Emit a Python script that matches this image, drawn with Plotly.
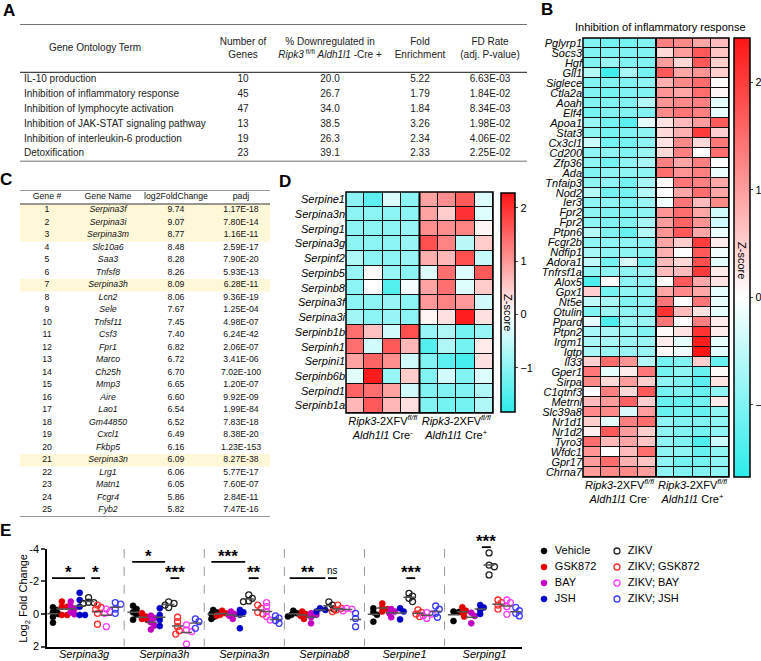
import numpy as np
import plotly.graph_objects as go

W, H = 761, 661
FONT = "Liberation Sans"
CYAN = "rgb(45,235,235)"
RED = "rgb(255,20,20)"


def px(x):
    return x / W


def py(y):
    return 1 - y / H


# ---------------- panel A: GO table ----------------
A_TERMS = ["IL-10 production", "Inhibition of inflammatory response",
           "Inhibition of lymphocyte activation", "Inhibition of JAK-STAT signaling pathway",
           "Inhibition of interleukin-6 production", "Detoxification"]
A_NGENES = [10, 45, 47, 13, 19, 23]
A_PCT_DOWN = [20.0, 26.7, 34.0, 38.5, 26.3, 39.1]
A_FOLD = [5.22, 1.79, 1.84, 3.26, 2.34, 2.33]
A_FDR = [6.63e-03, 1.84e-02, 8.34e-03, 1.98e-02, 4.06e-02, 2.25e-02]
A_HEADERS = ["Gene Ontology Term", "Number of<br>Genes",
             "% Downregulated in<br><i>Ripk3</i><sup> fl/fl</sup> <i>Aldh1l1</i> -Cre +",
             "Fold<br>Enrichment", "FD Rate<br>(adj. P-value)"]

# ---------------- panel C: top genes table ----------------
C_GENES = ["Serpina3f", "Serpina3i", "Serpina3m", "Slc10a6", "Saa3", "Tnfsf8", "Serpina3h",
           "Lcn2", "Sele", "Tnfsf11", "Csf3", "Fpr1", "Marco", "Ch25h", "Mmp3", "Aire", "Lao1",
           "Gm44850", "Cxcl1", "Fkbp5", "Serpina3n", "Lrg1", "Matn1", "Fcgr4", "Fyb2"]
C_LOG2FC = [9.74, 9.07, 8.77, 8.48, 8.28, 8.26, 8.09, 8.06, 7.67, 7.45, 7.40, 6.82, 6.72,
            6.70, 6.65, 6.60, 6.54, 6.52, 6.49, 6.16, 6.09, 6.06, 6.05, 5.86, 5.82]
C_PADJ = [1.17e-18, 7.80e-14, 1.16e-11, 2.59e-17, 7.90e-20, 5.93e-13, 6.28e-11, 9.36e-19,
          1.25e-04, 4.98e-07, 6.24e-42, 2.06e-07, 3.41e-06, 7.02e-100, 1.20e-07, 9.92e-09,
          1.99e-84, 7.83e-18, 8.38e-20, 1.23e-153, 8.27e-38, 5.77e-17, 7.60e-07, 2.84e-11,
          7.47e-16]
C_HEADERS = ["Gene #", "Gene Name", "log2FoldChange", "padj"]

# ---------------- panel B: heatmap ----------------
B_GENES = ["Pglyrp1", "Socs3", "Hgf", "Gll1", "Siglece", "Ctla2a", "Aoah", "Elf4", "Apoa1",
           "Stat3", "Cx3cl1", "Cd200", "Zfp36", "Ada", "Tnfaip3", "Nod2", "Ier3", "Fpr2",
           "Fpr2", "Ptpn6", "Fcgr2b", "Ndfip1", "Adora1", "Tnfrsf1a", "Alox5", "Gpx1", "Nt5e",
           "Otulin", "Ppard", "Ptpn2", "Irgm1", "Igtp", "Il33", "Gper1", "Sirpa", "C1qtnf3",
           "Metrnl", "Slc39a8", "Nr1d1", "Nr1d2", "Tyro3", "Wfdc1", "Gpr17", "Chrna7"]
B_Z = [
    [-1.0, -1.1, -1.1, -1.0, 1.3, 1.2, 0.9, 0.7],
    [-1.0, -1.0, -1.0, -1.0, 0.4, 1.0, 1.7, 0.6],
    [-1.0, -0.8, -1.0, -1.0, 1.0, 0.4, 1.7, 0.5],
    [-0.6, -1.5, -0.7, -1.1, 1.7, 0.9, 1.1, 0.5],
    [-1.0, -1.0, -1.0, -0.9, 0.8, 1.2, 1.5, 0.05],
    [-1.0, -1.1, -1.0, -1.0, 1.1, 0.9, 1.5, 0.1],
    [-1.0, -1.0, -1.0, -0.6, 1.1, 1.2, 1.3, -0.2],
    [-1.1, -1.0, -1.0, -1.0, 1.2, 1.4, 1.3, -0.2],
    [-0.8, -1.1, -1.3, -0.2, 0.3, 0.7, 1.0, 1.7],
    [-0.9, -1.1, -1.0, -0.9, 0.4, 0.8, 2.0, 0.5],
    [-0.4, -1.1, -1.1, -0.9, 0.3, 1.2, 0.4, 1.4],
    [-0.9, -0.9, -1.0, -0.8, 0.4, 1.3, 0.0, 1.5],
    [-0.9, -1.1, -0.9, -0.7, 1.3, 0.9, 1.3, 0.0],
    [-1.0, -0.9, -0.9, -0.9, 1.5, 1.1, 1.3, -0.15],
    [-0.9, -0.9, -1.1, -0.7, 0.05, 1.4, 1.3, 0.9],
    [-0.6, -1.1, -1.1, -0.6, 0.0, 0.9, 1.5, 0.9],
    [-0.9, -0.9, -1.0, -0.8, -0.1, 1.4, 0.7, 1.2],
    [-0.9, -1.0, -1.0, -0.9, 1.1, 1.5, 0.9, -0.4],
    [-0.9, -1.0, -1.0, -0.7, 1.0, 1.6, 1.1, -0.4],
    [-0.6, -1.0, -1.2, -0.6, 1.1, 1.7, 0.9, -0.15],
    [-0.9, -0.9, -0.9, -0.9, 0.9, 0.5, 2.0, 0.2],
    [-0.7, -0.9, -0.9, -0.9, 0.8, 0.0, 1.7, -0.1],
    [-0.5, -1.1, -0.3, -1.1, 0.7, 0.4, 1.8, -0.2],
    [-0.9, -0.9, -0.9, -0.8, 0.7, 0.7, 2.0, 0.2],
    [-1.4, 0.0, -0.9, -0.9, 0.05, 1.7, 0.9, 0.3],
    [0.5, -1.1, -0.9, -0.9, 0.9, 1.2, 0.9, -0.2],
    [-0.5, -0.7, -1.0, -0.9, 1.4, 0.0, 1.4, -0.2],
    [-1.0, -0.8, -0.9, -0.9, 2.1, 0.7, 0.3, -0.2],
    [-0.2, -1.4, -0.8, -0.8, 1.4, 0.0, 1.3, 0.2],
    [-0.7, -0.7, -0.8, -1.0, 0.05, 0.3, 2.1, 0.2],
    [-0.7, -0.7, -0.8, -0.8, 0.2, -0.2, 2.3, -0.2],
    [-0.7, -0.8, -0.8, -0.8, 0.05, -0.1, 2.4, -0.25],
    [0.5, 1.5, 1.1, -0.6, -1.1, -1.0, 0.5, -1.2],
    [1.4, -0.2, 0.2, 1.4, -1.1, -0.9, -1.2, 0.05],
    [1.2, 0.4, 1.0, 0.5, -0.9, -1.0, -1.3, 0.3],
    [0.0, 1.3, 0.4, 1.7, -1.1, -1.0, -1.2, -0.9],
    [0.7, 1.0, 1.6, 0.5, -1.2, -1.2, -1.1, 0.2],
    [1.2, 1.2, -0.3, 1.0, -1.2, -1.1, -1.2, -0.9],
    [0.5, -0.2, 1.3, 1.5, -0.9, -1.0, -1.0, -0.9],
    [0.15, 1.7, 1.0, 0.5, -0.9, -1.0, -1.1, -0.9],
    [1.5, 0.7, 0.9, 0.6, -0.9, -1.0, -1.4, -0.4],
    [1.1, 0.0, 0.7, 1.5, -0.9, -0.9, -1.2, -0.9],
    [1.0, 1.5, 0.8, 0.6, -0.9, -1.1, -1.1, -0.9],
    [1.0, 1.2, 1.2, 1.0, -0.9, -1.0, -1.0, -0.9],
]
B_ZMIN, B_ZMAX = -1.67, 2.41

# ---------------- panel D: serpin heatmap ----------------
D_GENES = ["Serpine1", "Serpina3n", "Serping1", "Serpina3g", "Serpinf2", "Serpinb5", "Serpinb8",
           "Serpina3f", "Serpina3i", "Serpinb1b", "Serpinh1", "Serpini1", "Serpinb6b",
           "Serpind1", "Serpinb1a"]
D_Z = [
    [-1.0, -1.4, -0.3, -1.0, 0.9, 1.1, 1.6, -0.3],
    [-1.0, -1.0, -1.0, -1.0, 0.9, 0.5, 2.0, -0.3],
    [-1.0, -1.0, -1.0, -0.9, 1.1, 1.1, 1.2, 0.1],
    [-1.0, -1.0, -1.0, -0.9, 1.7, 1.2, -0.6, 0.5],
    [-0.7, -1.0, -1.0, -0.9, 0.8, 0.7, 1.7, -0.5],
    [-0.9, 0.05, -0.9, -1.0, -0.3, 1.4, -0.3, 1.6],
    [-1.0, 0.0, -1.5, -0.1, 0.9, 1.4, -0.3, 0.5],
    [-1.0, -1.0, -0.9, -1.0, 1.0, 1.2, 1.0, -0.4],
    [-0.8, -1.0, -0.9, -1.0, 0.1, 0.3, 2.2, 0.3],
    [1.4, 0.6, -0.4, 1.7, -0.9, -0.7, -1.2, -0.9],
    [1.4, -0.4, 1.6, 0.7, -1.5, -0.7, -1.2, 0.2],
    [0.9, 1.5, 1.1, -0.4, -1.1, -1.4, -1.6, 0.3],
    [-0.25, 2.2, -0.9, 0.5, -1.1, -0.4, -1.1, -0.3],
    [1.5, 1.4, 0.9, -0.4, -1.1, -1.1, -1.1, -0.7],
    [0.7, 1.6, 0.7, 0.3, -1.1, -1.2, -1.2, -0.7],
]
D_ZMIN, D_ZMAX = -1.83, 2.28

GROUP_LABELS = ["<i>Ripk3</i>-2XFV<sup><i>fl/fl</i></sup><br><i>Aldh1l1</i> Cre<sup>-</sup>",
                "<i>Ripk3</i>-2XFV<sup><i>fl/fl</i></sup><br><i>Aldh1l1</i> Cre<sup>+</sup>"]

# ---------------- panel E: qPCR dot plot ----------------
E_GENES = ["Serpina3g", "Serpina3h", "Serpina3n", "Serpinab8", "Serpine1", "Serping1"]
CONDITIONS = ["Vehicle", "GSK872", "BAY", "JSH", "ZIKV", "ZIKV; GSK872", "ZIKV; BAY", "ZIKV; JSH"]
VEHICLE = [[-0.41, -0.25, -0.1, 0.0, 0.18, 0.53], [-0.5, -0.3, -0.1, 0.05, 0.35],
           [-0.25, -0.1, 0.0, 0.15, 0.3], [-0.2, -0.05, 0.05, 0.15],
           [-0.35, -0.1, 0.05, 0.47], [-0.15, -0.12, 0.43]]
GSK872 = [[-0.76, -0.45, -0.45, 0.06, 0.06], [-0.05, 0.15, 0.3, 0.37],
          [-0.2, -0.05, 0.05, 0.1], [-0.15, 0.0, 0.1, 0.3],
          [-0.65, -0.4, -0.3, -0.15], [-0.41, -0.2, -0.08, 0.16]]
BAY = [[-0.76, -0.45, -0.3, -0.1, 0.02], [0.1, 0.25, 0.5, 0.7, 0.95],
       [-0.15, 0.0, 0.1, 0.3], [-0.05, 0.05, 0.2, 0.57],
       [-0.3, -0.15, -0.05, 0.2], [-0.08, 0.12, 0.57]]
JSH = [[-1.3, -0.86, -0.45, 0.06, 0.06], [-0.35, 0.06, 0.37, 0.74],
       [-0.25, -0.1, 0.05, 0.88], [-0.35, -0.25, -0.15],
       [-0.35, -0.15, 0.33], [-0.55, -0.4, -0.25, 0.0]]
ZIKV = [[-1.0, -0.72, -0.7, -0.65], [-0.75, -0.65, -0.55, -0.4],
        [-1.17, -0.96, -0.8, -0.76], [-0.75, -0.55, -0.4, -0.3],
        [-1.27, -1.1, -0.96, -0.76], [-3.75, -3.0, -2.9, -2.4]]
ZIKV_GSK872 = [[-0.55, -0.4, -0.3, -0.04, 0.63], [0.2, 0.47, 0.78, 1.02, 1.23],
               [-0.55, -0.35, -0.1, 0.0], [-0.55, -0.35, -0.25, -0.15],
               [-0.25, -0.1, 0.0, 0.16], [-0.86, -0.7, -0.55, -0.3]]
ZIKV_BAY = [[-0.3, -0.15, -0.04, 0.78], [0.67, 0.98, 1.08, 1.84],
            [-0.7, -0.45, -0.15, 0.16, 0.37], [-0.35, -0.3, -0.2],
            [-0.08, 0.0, 0.1, 0.27], [-0.86, -0.7, -0.45, 0.02]]
ZIKV_JSH = [[-0.7, -0.6, -0.3, -0.04], [0.3, 0.47, 0.88],
            [0.12, 0.25, 0.4, 0.57], [-0.04, 0.27, 0.78],
            [-0.49, -0.29, -0.04, 0.2], [-0.41, -0.2, -0.04, 0.12]]
E_SERIES = [VEHICLE, GSK872, BAY, JSH, ZIKV, ZIKV_GSK872, ZIKV_BAY, ZIKV_JSH]
COND_COLORS = ["#000000", "#e00000", "#c000c0", "#0000c8", "#222222", "#ff2a2a", "#ff3cff", "#3a3aff"]
# significance: gene, bar start, bar end (condition units), bar level, label
E_SIG = [(0, -0.1, 3.6, -2.2, "*"), (0, 4.3, 5.3, -2.2, "*"),
         (1, -0.1, 3.6, -3.2, "*"), (1, 4.2, 5.2, -2.2, "***"),
         (2, -0.2, 3.6, -3.2, "***"), (2, 4.0, 5.1, -2.2, "**"),
         (3, -0.4, 3.6, -2.2, "**"), (3, 3.9, 4.9, -2.2, "ns"),
         (4, 3.7, 4.7, -2.2, "***"), (5, 3.2, 4.2, -4.1, "***")]
E_YRANGE = [2, -4]
GROUP_STEP = 9


def swarm(vals, step=0.2, ux=8.9, uy=16.3, r=4.0):
    # simple beeswarm: shift points sideways when they would overlap
    vals = np.asarray(vals, dtype=float)
    offs = np.zeros(len(vals))
    placed = []
    for i in np.argsort(vals):
        o = 0.0
        for k in [0, 1, -1, 2, -2, 3, -3]:
            o = k * step
            if all(np.hypot((o - po) * ux, (vals[i] - pv) * uy) >= r for po, pv in placed):
                break
        offs[i] = o
        placed.append((o, vals[i]))
    return offs


def zscale(zmin, zmax):
    mid = -zmin / (zmax - zmin)
    return [[0, CYAN], [mid, "white"], [1, RED]]


def e_dom(v):
    # value on the E y axis -> fraction of that axis' domain (lets marks sit above the range)
    return (v - E_YRANGE[0]) / (E_YRANGE[1] - E_YRANGE[0])


fig = go.Figure()

# ---- table A ----
A_COL_X = [4, 223, 310, 400, 470]
A_HEAD_X = [75, 223, 310, 400, 470]
a_cols = [A_TERMS, [str(v) for v in A_NGENES], [f"{v:.1f}" for v in A_PCT_DOWN],
          [f"{v:.2f}" for v in A_FOLD], [f"{v:.2E}" for v in A_FDR]]
for j, col in enumerate(a_cols):
    fig.add_trace(go.Scatter(x=[A_COL_X[j]] * len(col), y=list(range(len(col))), text=col,
                             mode="text", textposition="middle right" if j == 0 else "middle center",
                             textfont=dict(size=10, color="#222"), hoverinfo="skip",
                             xaxis="x", yaxis="y"))
fig.add_trace(go.Scatter(x=A_HEAD_X, y=[-2.1] * 5, text=A_HEADERS, mode="text",
                         textposition="middle center", textfont=dict(size=10, color="#222"),
                         hoverinfo="skip", xaxis="x", yaxis="y"))

# ---- table C ----
C_COL_X = [27, 88, 156, 221]
n_c = len(C_GENES)
hl_rows = [i for i, g in enumerate(C_GENES) if g.startswith("Serpin")]
fig.add_trace(go.Bar(y=hl_rows, x=[250] * len(hl_rows), base=0, width=1, orientation="h",
                     marker=dict(color="#fff8d8", line=dict(width=0)), hoverinfo="skip",
                     xaxis="x2", yaxis="y2"))
c_cols = [[str(i + 1) for i in range(n_c)], [f"<i>{g}</i>" for g in C_GENES],
          [f"{v:.2f}" for v in C_LOG2FC], [f"{v:.2E}" for v in C_PADJ]]
for j, col in enumerate(c_cols):
    fig.add_trace(go.Scatter(x=[C_COL_X[j]] * n_c, y=list(range(n_c)), text=col, mode="text",
                             textposition="middle center", textfont=dict(size=8.7, color="#111"),
                             hoverinfo="skip", xaxis="x2", yaxis="y2"))
fig.add_trace(go.Scatter(x=C_COL_X, y=[-1.06] * 4, text=C_HEADERS, mode="text",
                         textposition="middle center", textfont=dict(size=8.7, color="#111"),
                         hoverinfo="skip", xaxis="x2", yaxis="y2"))

# ---- heatmaps ----
cb_common = dict(thicknessmode="pixels", lenmode="fraction", xanchor="left", yanchor="bottom",
                 xpad=0, ypad=0, outlinewidth=1.5, outlinecolor="black",
                 tickvals=[-1, 0, 1, 2], ticks="outside", ticklen=3, tickwidth=1,
                 tickfont=dict(size=11, color="black"))
fig.add_trace(go.Heatmap(z=B_Z, x=list(range(8)), y=list(range(len(B_GENES))),
                         colorscale=zscale(B_ZMIN, B_ZMAX), zmin=B_ZMIN, zmax=B_ZMAX,
                         xgap=1, ygap=1, hoverinfo="skip",
                         colorbar=dict(x=px(734), y=py(477), len=(477 - 38) / H, thickness=16,
                                       **cb_common),
                         xaxis="x3", yaxis="y3"))
fig.add_trace(go.Heatmap(z=D_Z, x=list(range(8)), y=list(range(len(D_GENES))),
                         colorscale=zscale(D_ZMIN, D_ZMAX), zmin=D_ZMIN, zmax=D_ZMAX,
                         xgap=1, ygap=1, hoverinfo="skip",
                         colorbar=dict(x=px(501), y=py(412), len=(412 - 193) / H, thickness=14,
                                       **cb_common),
                         xaxis="x4", yaxis="y4"))

# ---- panel E ----
for c, (name, series, color) in enumerate(zip(CONDITIONS, E_SERIES, COND_COLORS)):
    xs, ys = [], []
    for g, vals in enumerate(series):
        offs = swarm(vals)
        xs += list(g * GROUP_STEP + c + offs)
        ys += list(vals)
    is_open = name.startswith("ZIKV")
    fig.add_trace(go.Scatter(
        x=xs, y=ys, mode="markers", name=name, hoverinfo="skip", cliponaxis=False,
        marker=dict(size=6, symbol="circle-open" if is_open else "circle",
                    color=color, line=dict(width=1.3 if is_open else 0.6, color=color)),
        xaxis="x5", yaxis="y5"))
mx, my = [], []
for c, series in enumerate(E_SERIES):
    for g, vals in enumerate(series):
        mx.append(g * GROUP_STEP + c)
        my.append(float(np.mean(vals)))
fig.add_trace(go.Scatter(x=mx, y=my, mode="markers", hoverinfo="skip",
                         marker=dict(symbol="line-ew", size=8, line=dict(width=1.5, color="#555")),
                         xaxis="x5", yaxis="y5"))

# legend drawn on its own small axis
leg_col = [1 if n.startswith("ZIKV") else 0 for n in CONDITIONS]
leg_row = [i % 4 for i in range(len(CONDITIONS))]
fig.add_trace(go.Scatter(
    x=leg_col, y=leg_row, text=["  " + n for n in CONDITIONS], mode="markers+text",
    textposition="middle right", textfont=dict(size=11, color="black"), cliponaxis=False,
    marker=dict(size=6, color=COND_COLORS,
                symbol=["circle-open" if k else "circle" for k in leg_col],
                line=dict(width=[1.3 if k else 0.6 for k in leg_col], color=COND_COLORS)),
    hoverinfo="skip", xaxis="x6", yaxis="y6"))

# ---------------- shapes ----------------
shapes = []
for yv, w in [(-3.77, 1.4), (-0.5, 1.2), (5.5, 1.2)]:
    shapes.append(dict(type="line", xref="x domain", yref="y", x0=0, x1=1, y0=yv, y1=yv,
                       line=dict(color="#444", width=w)))
for yv in [-1.62, -0.5, n_c - 0.5]:
    shapes.append(dict(type="line", xref="x2 domain", yref="y2", x0=0, x1=1, y0=yv, y1=yv,
                       line=dict(color="#333", width=1)))
for ax in ["3", "4"]:
    shapes.append(dict(type="rect", xref=f"x{ax} domain", yref=f"y{ax} domain", x0=0, x1=1,
                       y0=0, y1=1, fillcolor="#111", line=dict(width=0), layer="below"))
    shapes.append(dict(type="rect", xref=f"x{ax} domain", yref=f"y{ax} domain", x0=0, x1=1,
                       y0=0, y1=1, line=dict(color="black", width=1.5)))
    shapes.append(dict(type="line", xref=f"x{ax}", yref=f"y{ax} domain", x0=3.5, x1=3.5,
                       y0=0, y1=1, line=dict(color="black", width=2)))
for g in range(len(E_GENES) - 1):
    xv = g * GROUP_STEP + 8
    shapes.append(dict(type="line", xref="x5", yref="y5", x0=xv, x1=xv, y0=-4, y1=2,
                       line=dict(color="#9a9a9a", width=1, dash="dash")))

annotations = []
for g, x0, x1, yv, label in E_SIG:
    base = g * GROUP_STEP
    shapes.append(dict(type="line", xref="x5", yref="y5 domain", x0=base + x0, x1=base + x1,
                       y0=e_dom(yv), y1=e_dom(yv), line=dict(color="black", width=1.8)))
    star = label != "ns"
    annotations.append(dict(x=base + (x0 + x1) / 2, y=e_dom(yv), xref="x5", yref="y5 domain",
                            text=f"<b>{label}</b>" if star else label, showarrow=False,
                            xanchor="center", yanchor="bottom", yshift=-6 if star else 0,
                            font=dict(size=17 if star else 10, color="black")))

for letter, x, y in [("A", 9, 10), ("B", 547, 9), ("C", 6, 179), ("D", 285, 181), ("E", 6, 530)]:
    annotations.append(dict(x=px(x), y=py(y), xref="paper", yref="paper", text=f"<b>{letter}</b>",
                            showarrow=False, xanchor="center", yanchor="middle",
                            font=dict(size=17, color="black")))
annotations.append(dict(x=px(660), y=py(27), xref="paper", yref="paper",
                        text="Inhibition of inflammatory response", showarrow=False,
                        xanchor="center", yanchor="middle", font=dict(size=11, color="black")))
for x, y in [(742, 260), (508, 312)]:
    annotations.append(dict(x=px(x), y=py(y), xref="paper", yref="paper", text="Z-score",
                            textangle=90, showarrow=False, xanchor="center", yanchor="middle",
                            font=dict(size=11, color="black")))
# y title of panel E, placed next to its tick labels
annotations.append(dict(x=px(24), y=0.5, xref="paper", yref="y5 domain",
                        text="Log<sub>2</sub> Fold Change", textangle=-90, showarrow=False,
                        xanchor="center", yanchor="middle", font=dict(size=11, color="black")))

hidden = dict(visible=False, showgrid=False, zeroline=False)
heat_x = dict(range=[-0.5, 7.5], tickvals=[1.5, 5.5], ticktext=GROUP_LABELS, ticks="",
              showgrid=False, zeroline=False, tickfont=dict(size=11, color="black"))

fig.update_layout(
    width=W, height=H, margin=dict(l=0, r=0, t=0, b=0, autoexpand=False),
    paper_bgcolor="white", plot_bgcolor="white", showlegend=False,
    font=dict(family=FONT, color="black"),
    xaxis=dict(domain=[px(20), px(527)], range=[0, 507], anchor="y", **hidden),
    yaxis=dict(domain=[py(161.4), py(24)], range=[5.5, -3.77], anchor="x", **hidden),
    xaxis2=dict(domain=[px(20), px(270)], range=[0, 250], anchor="y2", **hidden),
    yaxis2=dict(domain=[py(516.5), py(190)], range=[n_c - 0.5, -1.62], anchor="x2", **hidden),
    xaxis3=dict(domain=[px(583), px(729)], anchor="y3", **heat_x),
    yaxis3=dict(domain=[py(477), py(38)], range=[len(B_GENES) - 0.5, -0.5], anchor="x3",
                tickvals=list(range(len(B_GENES))), ticktext=B_GENES, ticks="",
                showgrid=False, zeroline=False,
                tickfont=dict(size=11, style="italic", color="black")),
    xaxis4=dict(domain=[px(346), px(493)], anchor="y4", **heat_x),
    yaxis4=dict(domain=[py(413), py(192)], range=[len(D_GENES) - 0.5, -0.5], anchor="x4",
                tickvals=list(range(len(D_GENES))), ticktext=D_GENES, ticks="",
                showgrid=False, zeroline=False,
                tickfont=dict(size=11, style="italic", color="black")),
    xaxis5=dict(domain=[px(47), px(522)], range=[-0.67, 52.7], anchor="y5",
                tickvals=[g * GROUP_STEP + 3.5 for g in range(len(E_GENES))], ticktext=E_GENES,
                ticks="", showline=True, linecolor="black", linewidth=1.5,
                showgrid=False, zeroline=False, ticklabelstandoff=-4,
                tickfont=dict(size=11, style="italic", color="black")),
    yaxis5=dict(domain=[py(646.6), py(548.8)], range=E_YRANGE, anchor="x5",
                tickvals=[-4, -2, 0, 2], ticktext=["-4", "-2", "0", "2"],
                ticks="outside", ticklen=4, tickwidth=1.5, showline=True, linecolor="black",
                linewidth=1.5, showgrid=False, zeroline=False,
                tickfont=dict(size=11, color="black")),
    xaxis6=dict(domain=[px(544), px(617)], range=[0, 1], anchor="y6", **hidden),
    yaxis6=dict(domain=[py(599), py(551)], range=[3, 0], anchor="x6", **hidden),
    shapes=shapes, annotations=annotations,
)

# the page body has a default 8px margin; drop it so the figure sits at the window corner
fig.write_html("out.html", config={"displayModeBar": False},
               post_script="document.body.style.margin='0px';")
